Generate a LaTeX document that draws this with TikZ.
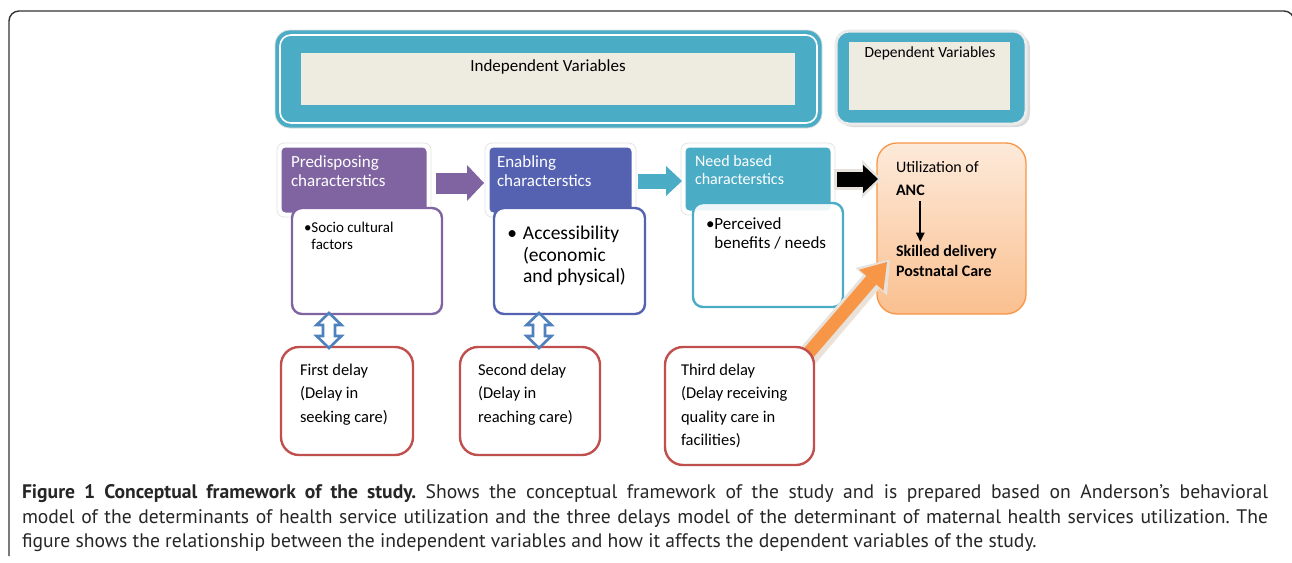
\documentclass[tikz,border=0pt]{standalone}
\usepackage{fontspec}
\setmainfont{Carlito}
\newfontfamily\capfont{PT Sans}
\usetikzlibrary{arrows.meta,calc}
\definecolor{cTeal}{RGB}{75,172,198}
\definecolor{cBeige}{RGB}{238,236,225}
\definecolor{cPurple}{RGB}{128,100,162}
\definecolor{cBlueE}{RGB}{84,98,177}
\definecolor{cRed}{RGB}{192,80,77}
\definecolor{cOrange}{RGB}{247,150,70}
\definecolor{cOrTop}{RGB}{253,234,218}
\definecolor{cOrBot}{RGB}{250,192,144}
\definecolor{cDbl}{RGB}{79,129,189}
\definecolor{cGlow}{RGB}{232,226,220}
\newcommand\myDblArrow[2]{%
  \draw[cDbl, line width=2.6pt, fill=white, line join=miter]
    let \p1=(#1), \p2=(#2) in
    (\x1,\y1) -- (\x1+12.5pt,\y1-12pt) -- (\x1+6pt,\y1-12pt) -- (\x1+6pt,\y2+12pt)
    -- (\x1+12.5pt,\y2+12pt) -- (\x1,\y2) -- (\x1-12.5pt,\y2+12pt) -- (\x1-6pt,\y2+12pt)
    -- (\x1-6pt,\y1-12pt) -- (\x1-12.5pt,\y1-12pt) -- cycle;}
\frenchspacing
\begin{document}
\begin{tikzpicture}[x=1pt,y=-1pt,
  every node/.style={inner sep=0pt, outer sep=0pt},
  hdrbox/.style={anchor=north west, rounded corners=5pt, draw=white, line width=3pt},
  listbox/.style={anchor=north west, rounded corners=10pt, fill=white, line width=2.4pt},
  delaybox/.style={anchor=north west, rounded corners=18pt, fill=white, draw=cRed, line width=2.4pt},
  hdrtext/.style={anchor=north west, align=left, text=white, font=\fontsize{17}{18.5}\selectfont},
  delaytext/.style={anchor=north west, align=left, font=\fontsize{16.5}{23.5}\selectfont},
  captext/.style={anchor=base west, font=\capfont\fontsize{19.6}{22}\selectfont, text=black!85}
]
\useasboundingbox (0,0) rectangle (1292,562);
\fill[white] (0,0) rectangle (1292,562);

% outer frame
\draw[line width=1.4pt, black!80, rounded corners=10pt] (9,556) -- (9,11) -- (1294,11) -- (1294,556);

% Independent variables
\node[anchor=north west, minimum width=547pt, minimum height=98pt, fill=cTeal, draw=black!12, line width=0.8pt, rounded corners=15pt] (indep) at (275,30) {};
\draw[white, line width=1.6pt, rounded corners=11pt] ($(indep.north west)+(5,5)$) rectangle ($(indep.south east)+(-5,-5)$);
\node[anchor=north west, minimum width=494pt, minimum height=52pt, fill=cBeige] (indepin) at (301,53) {};
\node[font=\fontsize{17}{20}\selectfont] (indeptxt) at (548,67) {Independent Variables};

% Dependent variables
\fill[black!14, rounded corners=13pt] (839,34) rectangle (1030,127);
\node[anchor=north west, minimum width=190pt, minimum height=93pt, fill=cTeal, draw=white!92!black, line width=3pt, rounded corners=13pt] (dep) at (836,31) {};
\node[anchor=north west, minimum width=161pt, minimum height=68pt, fill=cBeige] (depin) at (849,42) {};
\node[font=\fontsize{15.5}{18}\selectfont] (deptxt) at (930,53) {Dependent Variables};

% header boxes
\foreach \x/\y/\w/\h in {280/146/148/68, 488/146/145/68, 684/146/148/66}{
  \draw[black!10, line width=0.8pt, rounded corners=7pt] (\x-3,\y-3) rectangle (\x+\w+3,\y+\h+3);
}
\node[hdrbox, fill=cPurple, minimum width=148pt, minimum height=68pt] (pred) at (280,146) {};
\node[hdrbox, fill=cBlueE, minimum width=145pt, minimum height=68pt] (enab) at (488,146) {};
\node[hdrbox, fill=cTeal, minimum width=148pt, minimum height=66pt] (need) at (684,146) {};

% list boxes
\node[listbox, draw=cPurple, minimum width=150pt, minimum height=106pt] (soc) at (292,208) {};
\node[listbox, draw=cBlueE, minimum width=151pt, minimum height=106pt] (acc) at (494,208) {};
\node[listbox, draw=cTeal, fill opacity=0.9, minimum width=150pt, minimum height=104pt] (perc) at (693,203) {};

% header texts
\node[hdrtext] (predtxt) at (291,156) {Predisposing\\characterstics};
\node[hdrtext] (enabtxt) at (497,156) {Enabling\\characterstics};
\node[hdrtext, font=\fontsize{16}{17.5}\selectfont] (needtxt) at (695,155.5) {Need based\\characterstics};

% list texts
\node[anchor=north west, align=left, font=\fontsize{15}{17}\selectfont] (soctxt) at (304,222) {\textbullet Socio cultural\\\phantom{\textbullet}factors};
\node[anchor=north west, align=left, font=\fontsize{19.5}{21.5}\selectfont] (acctxt) at (523,226) {\llap{\textbullet\hspace{6pt}}Accessibility\\(economic\\and physical)};
\node[anchor=north west, align=left, font=\fontsize{17}{19}\selectfont] (perctxt) at (706,218) {\textbullet Perceived\\\phantom{\textbullet}benefits / needs};

% utilization box
\node[anchor=north west, minimum width=149pt, minimum height=171pt, rounded corners=20pt, top color=cOrTop, bottom color=cOrBot, draw=cOrange, line width=1.3pt] (util) at (877,143) {};
\node[anchor=north west, font=\fontsize{16}{20}\selectfont] (utiltxt) at (896,161.5) {Utilization of};
\node[anchor=north west, font=\bfseries\fontsize{16}{20}\selectfont] (anc) at (896,185.5) {ANC};
\node[anchor=north west, align=left, font=\bfseries\fontsize{16}{20}\selectfont] (skill) at (896,245.5) {Skilled delivery\\Postnatal Care};
\draw[line width=2pt, -{Triangle[length=9pt,width=9pt,line width=0pt]}] ([shift={(10,5)}]anc.south) -- ([shift={(10,-4)}]anc.south |- skill.north);

% block arrows between headers
\draw[cPurple, line width=21pt, -{Triangle[length=17pt,width=36pt,line width=0pt]}] ([shift={(8,3)}]pred.east) -- ([shift={(-4,3)}]pred.east -| enab.west);
\draw[cTeal, line width=15pt, -{Triangle[length=16pt,width=30pt,line width=0pt]}] ([shift={(5,1)}]enab.east) -- ([shift={(-2,1)}]enab.east -| need.west);
\draw[cGlow, line width=21pt, shorten >=-3pt, -{Triangle[length=19pt,width=38pt,line width=0pt]}] ([shift={(2,0)}]need.east) -- ([shift={(1,0)}]need.east -| util.west);
\draw[black, line width=15pt, -{Triangle[length=15pt,width=28pt,line width=0pt]}] ([shift={(5,0)}]need.east) -- ([shift={(1,0)}]need.east -| util.west);

% third delay arrow
\coordinate (ostart) at (806,356);
\draw[cGlow!80!brown!60, line width=20pt, shorten >=-3pt, -{Triangle[length=28pt,width=40pt,line width=0pt]}] ([shift={(2,1)}]ostart) -- ([shift={(11,-51)}]util.south west);
\draw[cGlow, line width=19pt, shorten >=-3pt, -{Triangle[length=28pt,width=40pt,line width=0pt]}] (ostart) -- ([shift={(10,-52)}]util.south west);
\draw[cOrange, line width=13pt, -{Triangle[length=24pt,width=32pt,line width=0pt]}] (ostart) -- ([shift={(10,-52)}]util.south west);

% delay boxes
\node[delaybox, minimum width=132pt, minimum height=108pt] (d1) at (281,347) {};
\node[delaybox, minimum width=140pt, minimum height=108pt] (d2) at (460,347) {};
\node[delaybox, minimum width=149pt, minimum height=118pt] (d3) at (665,347) {};

\node[delaytext] (d1txt) at (300,364) {First delay\\(Delay in\\seeking care)};
\node[delaytext] (d2txt) at (478,364) {Second delay\\(Delay in\\reaching care)};
\node[delaytext] (d3txt) at (681,364) {Third delay\\(Delay receiving\\quality care in\\facilities)};

% double arrows
\coordinate (da1) at ([xshift=-38pt,yshift=1pt]soc.south);
\coordinate (db1) at ([xshift=-18pt,yshift=-1pt]d1.north);
\coordinate (da2) at ([xshift=-30.5pt,yshift=1pt]acc.south);
\coordinate (db2) at ([xshift=9pt,yshift=-1pt]d2.north);
\myDblArrow{da1}{db1}
\myDblArrow{da2}{db2}

% caption
\node[captext] (cap1) at (22,498) {\makebox[1246pt][s]{\textbf{Figure 1 Conceptual framework of the study.} Shows the conceptual framework of the study and is prepared based on Anderson’s behavioral}};
\node[captext] (cap2) at (22,523) {\makebox[1246pt][s]{model of the determinants of health service utilization and the three delays model of the determinant of maternal health services utilization. The}};
\node[captext] (cap3) at (22,547) {figure shows the relationship between the independent variables and how it affects the dependent variables of the study.};
\end{tikzpicture}
\end{document}
